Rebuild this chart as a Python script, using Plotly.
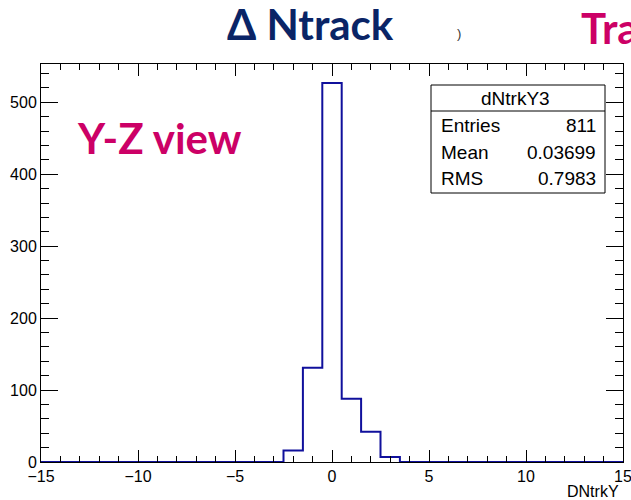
import numpy as np
import plotly.graph_objects as go

# Histogram dNtrkY3: unit-width bins centred on integers, range [-15, 15]
bin_centers = [-2, -1, 0, 1, 2, 3]
bin_counts = [16, 131, 527, 88, 42, 7]
x_range = [-15, 15]
y_max = 553.35

stats_title = "dNtrkY3"
stats_names = ["Entries", "Mean", "RMS"]
stats_values = ["811", "0.03699", "0.7983"]

x_tick_vals = [-15, -10, -5, 0, 5, 10, 15]
x_tick_text = ["\u221215", "\u221210", "\u22125", "0", "5", "10", "15"]
y_tick_vals = [0, 100, 200, 300, 400, 500]

# Step outline across the full axis range (edges at k-0.5, k+0.5)
full_edges = np.concatenate(([x_range[0]], np.arange(x_range[0] + 0.5, x_range[1], 1.0), [x_range[1]]))
vals = np.zeros(len(full_edges) - 1)
for c, n in zip(bin_centers, bin_counts):
    idx = int(np.searchsorted(full_edges, c) - 1)
    vals[idx] = n
xs = list(full_edges)
ys = list(vals) + [vals[-1]]

W, H = 631, 500
L, R, T, B = 41, 623, 64, 462


def px(x):
    return (x - L) / (R - L)


def py(y):
    return (B - y) / (B - T)


fig = go.Figure()
fig.add_trace(go.Scatter(
    x=xs, y=ys, mode="lines", line=dict(shape="hv", color="#10109c", width=2),
    hoverinfo="skip", showlegend=False,
))
# invisible trace on the mirrored axes so they are drawn
fig.add_trace(go.Scatter(x=[x_range[0]], y=[0], xaxis="x2", yaxis="y2", mode="markers",
                         marker=dict(opacity=0), hoverinfo="skip", showlegend=False))

axis_font = dict(family="Liberation Sans, Arial, sans-serif", size=16, color="black")

xcommon = dict(range=x_range, tickvals=x_tick_vals, ticks="inside", ticklen=12, tickwidth=1,
               tickcolor="black", automargin=False,
               minor=dict(dtick=1, tick0=0, ticks="inside", ticklen=6, tickcolor="black", showgrid=False),
               showgrid=False, zeroline=False)
ycommon = dict(range=[0, y_max], tickvals=y_tick_vals, ticks="inside", ticklen=17, tickwidth=1,
               tickcolor="black", automargin=False,
               minor=dict(dtick=20, tick0=0, ticks="inside", ticklen=8, tickcolor="black", showgrid=False),
               showgrid=False, zeroline=False)

annotations = []
shapes = []

# Slide headings
head_font = "Lato, sans-serif"
annotations.append(dict(text="<b>\u0394 Ntrack</b>", x=px(310), y=py(24), xref="paper", yref="paper",
                        xanchor="center", yanchor="middle", showarrow=False,
                        font=dict(family=head_font, size=42, color="#0a2466")))
annotations.append(dict(text="<b>Tra</b>", x=px(579), y=py(28), xref="paper", yref="paper",
                        xanchor="left", yanchor="middle", showarrow=False,
                        font=dict(family=head_font, size=42, color="#cc0066")))
annotations.append(dict(text=")", x=px(459), y=py(33), xref="paper", yref="paper",
                        xanchor="center", yanchor="middle", showarrow=False,
                        font=dict(family="Liberation Sans, sans-serif", size=13, color="#333333")))
annotations.append(dict(text="<b>Y-Z view</b>", x=px(75), y=py(138), xref="paper", yref="paper",
                        xanchor="left", yanchor="middle", showarrow=False,
                        font=dict(family=head_font, size=42, color="#cc0066")))

# Axis title
annotations.append(dict(text="DNtrkY", x=px(621), y=py(491), xref="paper", yref="paper",
                        xanchor="right", yanchor="middle", showarrow=False,
                        font=dict(family="Liberation Sans, Arial, sans-serif", size=16, color="black")))

# Statistics box
bx0, bx1, by0, by1, bsep = 431, 605, 85, 193, 111
shapes.append(dict(type="rect", xref="paper", yref="paper", x0=px(bx0), x1=px(bx1), y0=py(by1), y1=py(by0),
                   line=dict(color="black", width=1), fillcolor="white", layer="above"))
shapes.append(dict(type="line", xref="paper", yref="paper", x0=px(bx0), x1=px(bx1), y0=py(bsep), y1=py(bsep),
                   line=dict(color="black", width=1), layer="above"))
stat_font = dict(family="Liberation Sans, Arial, sans-serif", size=19, color="black")
annotations.append(dict(text=stats_title, x=px(515), y=py(98), xref="paper", yref="paper",
                        xanchor="center", yanchor="middle", showarrow=False, font=stat_font))
row_y = [125, 152, 178]
for name, val, ry in zip(stats_names, stats_values, row_y):
    annotations.append(dict(text=name, x=px(439), y=py(ry), xref="paper", yref="paper",
                            xanchor="left", yanchor="middle", showarrow=False, font=stat_font))
    annotations.append(dict(text=val, x=px(598), y=py(ry), xref="paper", yref="paper",
                            xanchor="right", yanchor="middle", showarrow=False, font=stat_font))

fig.update_layout(
    width=W, height=H,
    margin=dict(l=L, r=W - R, t=T, b=H - B, autoexpand=False),
    paper_bgcolor="white", plot_bgcolor="white",
    xaxis=dict(**xcommon, ticktext=x_tick_text, tickfont=axis_font, showline=True,
               linecolor="black", linewidth=1, mirror=True, ticklabeloverflow="allow"),
    yaxis=dict(**ycommon, tickfont=axis_font, showline=True, linecolor="black", linewidth=1, mirror=True),
    xaxis2=dict(**xcommon, overlaying="x", side="top", showticklabels=False),
    yaxis2=dict(**ycommon, overlaying="y", side="right", showticklabels=False),
    annotations=annotations, shapes=shapes,
)

fig.write_html("out.html")
